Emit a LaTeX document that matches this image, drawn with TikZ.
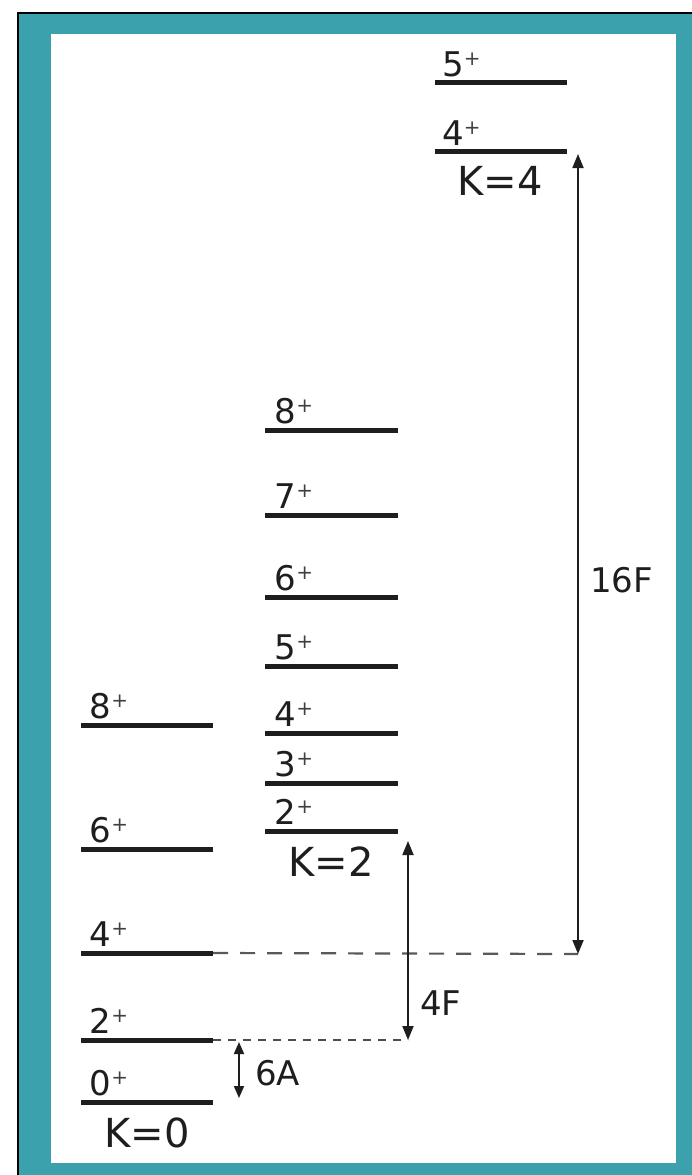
\documentclass[tikz,border=0pt]{standalone}
\usepackage{fontspec}
\setmainfont{DejaVu Sans}
\usetikzlibrary{arrows.meta}
\definecolor{frameteal}{HTML}{3AA1AD}
\definecolor{ink}{HTML}{1E1E1E}
\newcommand\pl{\raisebox{11pt}{\fontsize{20}{20}\selectfont\color{black!75}+}}
\begin{document}
\begin{tikzpicture}[x=1pt,y=-1pt,
  levelline/.style={line width=5pt, draw=ink},
  lab/.style={anchor=base west, inner sep=0pt, font=\fontsize{34}{34}\selectfont, text=ink},
  klab/.style={anchor=base, inner sep=0pt, font=\fontsize{40}{40}\selectfont, text=ink},
  alab/.style={anchor=base west, inner sep=0pt, font=\fontsize{34}{34}\selectfont, text=ink},
  dimarrow/.style={line width=1.8pt, draw=ink, {Triangle[length=14pt,width=11pt]}-{Triangle[length=14pt,width=11pt]}},
  guide/.style={line width=2.2pt, draw=black!65, dash pattern=on 15pt off 12pt},
  guidesmall/.style={line width=1.5pt, draw=black!70, dash pattern=on 8pt off 7pt}
]
\useasboundingbox (0,0) rectangle (692,1175);
\fill[white] (0,0) rectangle (692,1175);
\fill[frameteal] (18,13) rectangle (692,1175);
\draw[line width=1.5pt] (18,1175) -- (18,13) -- (692,13);
\fill[white] (51,34) rectangle (676,1163);

% K=0 band
\foreach \n/\y in {0/1102, 2/1040, 4/953, 6/849, 8/725}{
  \coordinate (a0l\n) at (81,\y);
  \coordinate (b0l\n) at (213,\y);
  \draw[levelline] (a0l\n) -- (b0l\n);
  \node[lab] (t0l\n) at (89.5,\y-7) {\n\pl};
}
\node[klab] (k0) at (147,1147) {K=0};

% K=2 band
\foreach \n/\y in {2/831, 3/783, 4/733, 5/666, 6/597, 7/515, 8/430}{
  \coordinate (a2l\n) at (265,\y);
  \coordinate (b2l\n) at (398,\y);
  \draw[levelline] (a2l\n) -- (b2l\n);
  \node[lab] (t2l\n) at (274.5,\y-7) {\n\pl};
}
\node[klab] (k2) at (331,876) {K=2};

% K=4 band
\foreach \n/\y in {4/151, 5/82}{
  \coordinate (a4l\n) at (435,\y);
  \coordinate (b4l\n) at (567,\y);
  \draw[levelline] (a4l\n) -- (b4l\n);
  \node[lab] (t4l\n) at (442,\y-6) {\n\pl};
}
\node[klab] (k4) at (500,195) {K=4};

% guide lines and arrows
\coordinate (p16top) at (578,154);
\coordinate (p16bot) at (578,954);
\coordinate (p4top) at (408,841);
\coordinate (p4bot) at (408,1040);
\coordinate (p6top) at (239,1042);
\coordinate (p6bot) at (239,1098);

\draw[guide] (b0l4) -- (p16bot);
\draw[guidesmall] (b0l2) -- (p4bot);

\draw[dimarrow] (p16top) -- (p16bot);
\draw[dimarrow] (p4top) -- (p4bot);
\draw[line width=1.8pt, draw=ink, {Triangle[length=12pt,width=10pt]}-{Triangle[length=12pt,width=10pt]}] (p6top) -- (p6bot);

\node[alab] (l16) at (590,592) {16F};
\node[alab] (l4) at (420,1015) {4F};
\node[alab] (l6) at (255,1085) {6A};
\end{tikzpicture}
\end{document}
